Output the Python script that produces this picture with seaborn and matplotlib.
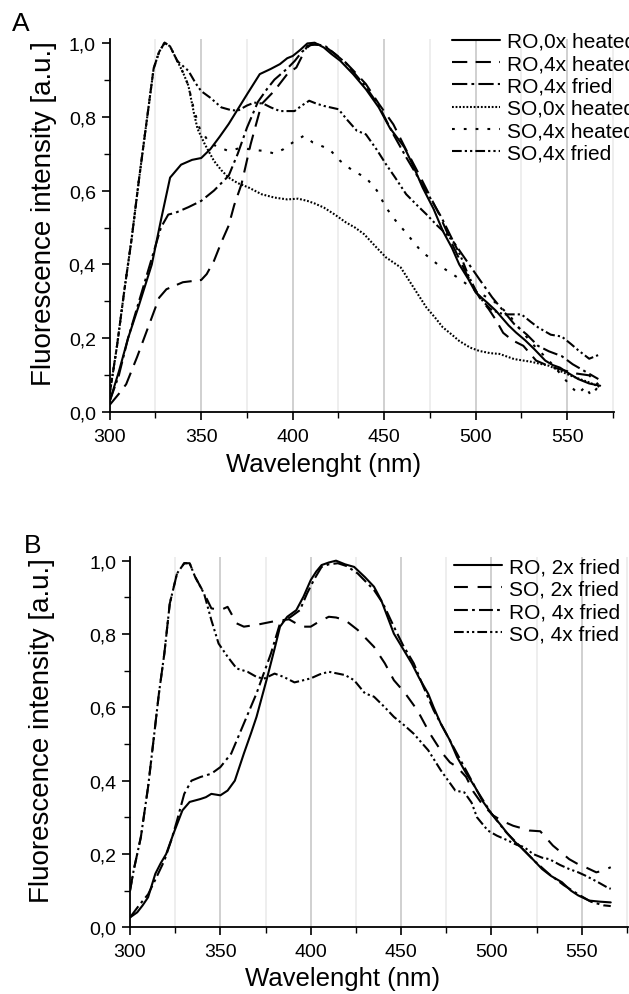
import matplotlib
matplotlib.use("Agg")
import matplotlib.pyplot as plt
from matplotlib.ticker import MultipleLocator, FuncFormatter
import seaborn as sns

# ---------------- Panel A data ----------------
A_RO0h_x = [300, 305, 310, 316, 323, 328, 333, 339, 345, 350, 355, 360, 365, 370, 375, 382, 388, 393, 397, 400, 404, 408, 412, 417, 421, 426, 433, 440, 447, 453, 461, 466, 471, 477, 482, 487, 491, 496, 500, 506, 511, 518, 522, 527, 532, 538, 542, 546, 551, 556, 562, 568]
A_RO0h_y = [0.03, 0.11, 0.2, 0.29, 0.4, 0.52, 0.635, 0.67, 0.683, 0.688, 0.712, 0.745, 0.78, 0.82, 0.86, 0.915, 0.929, 0.942, 0.958, 0.964, 0.98, 0.998, 1.0, 0.987, 0.97, 0.951, 0.915, 0.874, 0.825, 0.77, 0.717, 0.665, 0.608, 0.55, 0.491, 0.445, 0.40, 0.36, 0.324, 0.298, 0.275, 0.235, 0.216, 0.195, 0.171, 0.14, 0.128, 0.121, 0.105, 0.09, 0.078, 0.072]

A_RO4h_x = [300, 305, 309, 315, 321, 327, 331, 340, 350, 353, 357, 361, 365, 368, 372, 377, 383, 390, 397, 402, 408, 412, 417, 423, 429, 435, 440, 447, 455, 462, 469, 475, 480, 488, 495, 502, 507, 511, 515, 520, 526, 533, 540, 547, 555, 562, 567]
A_RO4h_y = [0.02, 0.05, 0.076, 0.15, 0.23, 0.31, 0.333, 0.352, 0.358, 0.374, 0.41, 0.46, 0.505, 0.56, 0.617, 0.725, 0.834, 0.87, 0.915, 0.933, 0.992, 0.995, 0.992, 0.97, 0.946, 0.915, 0.888, 0.835, 0.779, 0.71, 0.644, 0.585, 0.536, 0.446, 0.374, 0.311, 0.28, 0.25, 0.215, 0.195, 0.18, 0.14, 0.125, 0.115, 0.105, 0.1, 0.075]

A_RO4f_x = [300, 305, 310, 316, 322, 328, 332, 336, 343, 350, 357, 365, 370, 375, 381, 386, 390, 397, 401, 405, 410, 414, 418, 423, 429, 435, 440, 447, 455, 462, 468, 475, 481, 488, 495, 502, 509, 515, 521, 528, 534, 540, 547, 553, 560, 567]
A_RO4f_y = [0.03, 0.1, 0.2, 0.3, 0.4, 0.5, 0.535, 0.54, 0.555, 0.572, 0.6, 0.64, 0.7, 0.77, 0.84, 0.875, 0.9, 0.93, 0.95, 0.975, 0.995, 0.995, 0.99, 0.97, 0.945, 0.91, 0.88, 0.83, 0.752, 0.69, 0.64, 0.581, 0.53, 0.46, 0.41, 0.36, 0.311, 0.275, 0.239, 0.21, 0.18, 0.165, 0.152, 0.13, 0.11, 0.09]

A_SO0h_x = [300, 304, 308, 312, 316, 320, 324, 327, 330, 333, 337, 340, 343, 346, 348, 352, 357, 361, 365, 370, 376, 383, 390, 397, 403, 408, 412, 417, 423, 429, 434, 439, 445, 451, 459, 466, 473, 478, 482, 487, 491, 497, 502, 508, 513, 521, 530, 540, 547, 552, 558, 562, 568]
A_SO0h_y = [0.05, 0.18, 0.33, 0.47, 0.63, 0.78, 0.93, 0.975, 1.0, 0.99, 0.95, 0.92, 0.884, 0.81, 0.767, 0.725, 0.68, 0.655, 0.635, 0.62, 0.608, 0.59, 0.581, 0.576, 0.578, 0.572, 0.565, 0.554, 0.535, 0.514, 0.5, 0.482, 0.45, 0.419, 0.392, 0.338, 0.284, 0.255, 0.23, 0.21, 0.193, 0.175, 0.166, 0.16, 0.158, 0.144, 0.137, 0.126, 0.11, 0.099, 0.088, 0.081, 0.068]

A_SO4h_x = [300, 304, 308, 312, 316, 320, 324, 327, 330, 333, 337, 340, 343, 346, 349, 353, 358, 365, 372, 378, 385, 390, 395, 400, 406, 411, 416, 420, 426, 433, 440, 446, 451, 456, 461, 470, 479, 490, 500, 510, 518, 525, 532, 540, 547, 552, 556, 560, 563, 567]
A_SO4h_y = [0.05, 0.18, 0.33, 0.47, 0.63, 0.78, 0.93, 0.975, 1.0, 0.99, 0.95, 0.92, 0.884, 0.82, 0.77, 0.74, 0.72, 0.707, 0.716, 0.71, 0.707, 0.7, 0.712, 0.73, 0.748, 0.73, 0.72, 0.712, 0.68, 0.653, 0.635, 0.6, 0.554, 0.52, 0.491, 0.437, 0.401, 0.365, 0.329, 0.3, 0.265, 0.22, 0.18, 0.14, 0.1, 0.07, 0.05, 0.07, 0.045, 0.07]

A_SO4f_x = [300, 304, 308, 312, 316, 320, 324, 327, 330, 333, 337, 343, 347, 350, 355, 361, 366, 370, 375, 379, 384, 388, 393, 401, 405, 409, 413, 417, 425, 430, 435, 440, 446, 451, 456, 462, 468, 473, 479, 484, 488, 492, 496, 500, 504, 508, 512, 516, 521, 525, 530, 534, 541, 547, 552, 556, 562, 567]
A_SO4f_y = [0.05, 0.18, 0.33, 0.47, 0.63, 0.78, 0.93, 0.975, 1.0, 0.99, 0.95, 0.924, 0.89, 0.869, 0.851, 0.825, 0.818, 0.816, 0.83, 0.838, 0.835, 0.825, 0.815, 0.815, 0.83, 0.843, 0.835, 0.829, 0.82, 0.79, 0.762, 0.752, 0.71, 0.671, 0.635, 0.59, 0.56, 0.536, 0.505, 0.482, 0.46, 0.42, 0.37, 0.33, 0.3, 0.28, 0.27, 0.265, 0.265, 0.265, 0.245, 0.23, 0.21, 0.205, 0.185, 0.168, 0.145, 0.155]

A_labels = ["RO,0x heated", "RO,4x heated", "RO,4x fried", "SO,0x heated", "SO,4x heated", "SO,4x fried"]

# ---------------- Panel B data ----------------
B_RO2f_x = [300, 304, 307, 310, 314, 317, 320, 324, 329, 333, 339, 342, 345, 350, 354, 358, 363, 367, 370, 376, 380, 383, 387, 392, 396, 400, 403, 406, 410, 414, 419, 424, 430, 435, 439, 443, 446, 451, 456, 460, 465, 468, 472, 477, 481, 486, 491, 495, 500, 505, 509, 513, 518, 523, 528, 533, 539, 544, 548, 554, 560, 566]
B_RO2f_y = [0.027, 0.041, 0.06, 0.082, 0.146, 0.175, 0.2, 0.255, 0.319, 0.342, 0.35, 0.355, 0.364, 0.36, 0.373, 0.4, 0.474, 0.53, 0.574, 0.683, 0.76, 0.82, 0.847, 0.865, 0.902, 0.947, 0.97, 0.988, 0.995, 1.0, 0.99, 0.983, 0.955, 0.929, 0.892, 0.84, 0.801, 0.76, 0.719, 0.68, 0.637, 0.6, 0.555, 0.51, 0.464, 0.42, 0.382, 0.345, 0.31, 0.28, 0.255, 0.233, 0.21, 0.185, 0.159, 0.14, 0.123, 0.1, 0.087, 0.073, 0.07, 0.068]

B_SO2f_x = [300, 302, 306, 310, 313, 316, 319, 322, 326, 330, 333, 336, 341, 345, 350, 354, 359, 363, 370, 380, 388, 395, 400, 405, 410, 414, 419, 426, 435, 441, 446, 452, 459, 466, 473, 477, 481, 486, 490, 495, 501, 506, 512, 517, 521, 527, 534, 543, 548, 552, 558, 562, 566]
B_SO2f_y = [0.1, 0.155, 0.246, 0.383, 0.51, 0.638, 0.747, 0.883, 0.965, 0.993, 0.993, 0.956, 0.911, 0.87, 0.865, 0.874, 0.829, 0.82, 0.825, 0.835, 0.84, 0.82, 0.82, 0.835, 0.847, 0.845, 0.838, 0.811, 0.765, 0.72, 0.674, 0.64, 0.592, 0.528, 0.474, 0.45, 0.437, 0.41, 0.37, 0.335, 0.305, 0.29, 0.277, 0.27, 0.264, 0.262, 0.223, 0.186, 0.172, 0.164, 0.15, 0.155, 0.164]

B_RO4f_x = [300, 305, 310, 314, 319, 323, 326, 330, 334, 339, 345, 350, 356, 363, 370, 378, 383, 389, 394, 398, 402, 406, 410, 415, 420, 426, 431, 435, 440, 446, 451, 457, 462, 468, 475, 483, 492, 500, 508, 516, 524, 532, 540, 548, 555, 562, 566]
B_RO4f_y = [0.027, 0.06, 0.09, 0.13, 0.182, 0.24, 0.291, 0.364, 0.4, 0.41, 0.419, 0.437, 0.474, 0.556, 0.638, 0.747, 0.829, 0.847, 0.865, 0.911, 0.95, 0.983, 0.99, 0.993, 0.985, 0.965, 0.94, 0.92, 0.883, 0.82, 0.77, 0.72, 0.66, 0.592, 0.528, 0.455, 0.373, 0.31, 0.26, 0.22, 0.18, 0.145, 0.115, 0.09, 0.07, 0.06, 0.058]

B_SO4f_x = [300, 302, 306, 310, 313, 316, 319, 322, 326, 330, 333, 336, 341, 345, 349, 354, 359, 365, 370, 374, 380, 385, 391, 396, 400, 405, 410, 415, 419, 424, 430, 435, 441, 446, 452, 457, 465, 472, 480, 485, 489, 492, 498, 503, 509, 514, 518, 523, 528, 532, 538, 543, 548, 552, 559, 564, 566]
B_SO4f_y = [0.1, 0.155, 0.246, 0.383, 0.51, 0.638, 0.747, 0.883, 0.965, 0.993, 0.993, 0.956, 0.91, 0.838, 0.774, 0.738, 0.706, 0.697, 0.683, 0.678, 0.692, 0.683, 0.668, 0.674, 0.679, 0.69, 0.697, 0.692, 0.688, 0.674, 0.638, 0.629, 0.6, 0.574, 0.55, 0.528, 0.483, 0.428, 0.373, 0.368, 0.34, 0.3, 0.264, 0.25, 0.237, 0.225, 0.219, 0.2, 0.19, 0.186, 0.17, 0.159, 0.15, 0.141, 0.123, 0.109, 0.105]

B_labels = ["RO, 2x fried", "SO, 2x fried", "RO, 4x fried", "SO, 4x fried"]

X_TICKS = [300, 350, 400, 450, 500, 550]
Y_TICKS = [0.0, 0.2, 0.4, 0.6, 0.8, 1.0]
X_LABEL = "Wavelenght (nm)"
Y_LABEL = "Fluorescence intensity [a.u.]"

# ---------------- styling ----------------
sns.set_theme(style="white")
plt.rcParams["font.family"] = ["Liberation Sans", "DejaVu Sans"]
plt.rcParams["lines.scale_dashes"] = False
plt.rcParams["text.color"] = "black"
plt.rcParams["axes.labelcolor"] = "black"
plt.rcParams["xtick.color"] = "black"
plt.rcParams["ytick.color"] = "black"

LW = 1.5
solid = "-"
dashA = (0, (11, 6))
dashdotA = (0, (11, 3, 2, 3))
dotfine = (0, (1.3, 1.3))
dotsparse = (0, (2, 6.5))
dashdotdot = (0, (7, 2.2, 1.6, 2.2, 1.6, 2.2))

A_styles = [solid, dashA, dashdotA, dotfine, dotsparse, dashdotdot]
B_styles = [solid, (0, (10, 7)), (0, (10, 3, 2, 3)), (0, (7, 2.2, 1.6, 2.2, 1.6, 2.2))]

fig = plt.figure(figsize=(6.29, 9.95), dpi=100)
axA = fig.add_axes([0.1744, 0.5846, 0.801, 0.3752])
axB = fig.add_axes([0.2067, 0.067, 0.791, 0.3722])

def style_axes(ax):
    ax.set_xlim(300, 575.3)
    ax.set_ylim(0, 1.01)
    ax.xaxis.set_major_locator(MultipleLocator(50))
    ax.xaxis.set_minor_locator(MultipleLocator(25))
    ax.yaxis.set_major_locator(MultipleLocator(0.2))
    ax.yaxis.set_minor_locator(MultipleLocator(0.1))
    ax.set_xticks(X_TICKS)
    ax.set_yticks(Y_TICKS)
    ax.yaxis.set_major_formatter(FuncFormatter(lambda v, _: f"{v:.1f}".replace(".", ",")))
    for s in ["top", "right"]:
        ax.spines[s].set_visible(False)
    for s in ["left", "bottom"]:
        ax.spines[s].set_color("black")
        ax.spines[s].set_linewidth(1.3)
    ax.tick_params(which="major", direction="out", length=6, width=1.2, color="black",
                   labelsize=14, labelcolor="black", pad=4, bottom=True, left=True)
    ax.tick_params(which="minor", direction="out", length=4, width=1.0, color="black",
                   bottom=True, left=True)
    ax.tick_params(axis="x", which="major", pad=5)
    ax.grid(False)
    ax.xaxis.grid(True, which="major", color="#c4c4c4", linewidth=1.1)
    ax.xaxis.grid(True, which="minor", color="#e9e9e9", linewidth=1.1)
    ax.set_axisbelow(True)
    ax.set_xlabel(X_LABEL, fontsize=18.5, color="black")
    ax.set_ylabel(Y_LABEL, fontsize=20, color="black")

A_series = [(A_RO0h_x, A_RO0h_y), (A_RO4h_x, A_RO4h_y), (A_RO4f_x, A_RO4f_y),
            (A_SO0h_x, A_SO0h_y), (A_SO4h_x, A_SO4h_y), (A_SO4f_x, A_SO4f_y)]
for (xs, ys), lab, ls in zip(A_series, A_labels, A_styles):
    sns.lineplot(x=xs, y=ys, ax=axA, color="black", linewidth=LW, linestyle=ls,
                 label=lab, estimator=None, sort=False)

B_series = [(B_RO2f_x, B_RO2f_y), (B_SO2f_x, B_SO2f_y), (B_RO4f_x, B_RO4f_y), (B_SO4f_x, B_SO4f_y)]
for (xs, ys), lab, ls in zip(B_series, B_labels, B_styles):
    sns.lineplot(x=xs, y=ys, ax=axB, color="black", linewidth=LW, linestyle=ls,
                 label=lab, estimator=None, sort=False)

for ax in (axA, axB):
    style_axes(ax)

axA.xaxis.set_label_coords(0.424, -0.106)
axB.xaxis.set_label_coords(0.427, -0.105)
axA.yaxis.set_label_coords(-0.105, 0.535)
axB.yaxis.set_label_coords(-0.15, 0.535)

legkw = dict(frameon=False, fontsize=15, handlelength=2.3, handletextpad=0.33,
             labelspacing=0.16, borderpad=0, borderaxespad=0, loc="upper left",
             labelcolor="black")
axA.legend(bbox_to_anchor=(0.679, 1.019), **legkw)
axB.legend(bbox_to_anchor=(0.651, 0.999), **legkw)

fig.text(21 / 629, 1 - 24 / 995, "A", fontsize=19, ha="center", va="center", color="black")
fig.text(33 / 629, 1 - 546 / 995, "B", fontsize=19, ha="center", va="center", color="black")

fig.savefig("out.png", dpi=100)
